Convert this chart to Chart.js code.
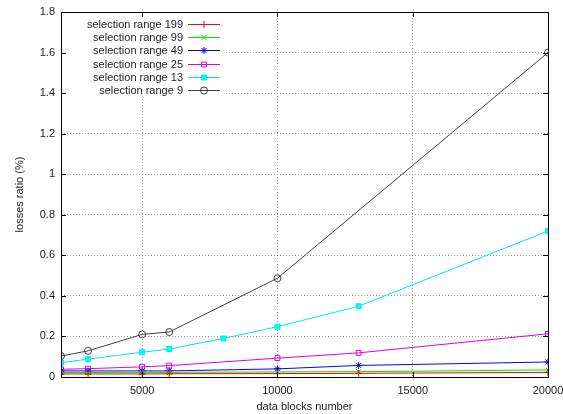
<!DOCTYPE html>
<html>
<head>
<meta charset="utf-8">
<script src="https://cdn.jsdelivr.net/npm/chart.js@4/dist/chart.umd.min.js"></script>
<style>
  html, body { margin: 0; padding: 0; background: #fff; }
  #wrap { width: 563px; height: 414px; }
</style>
</head>
<body>
<div id="wrap"><canvas id="chart"></canvas></div>
<script>
// x positions (data blocks number)
const blocksCommon = [2000, 3000, 5000, 6000, 10000, 13000, 20000];
const blocksRange13 = [2000, 3000, 5000, 6000, 8000, 10000, 13000, 20000];
const blocksRange9 = [2000, 3000, 5000, 6000, 10000, 20000];

// losses ratio (%)
const range199 = [0.015, 0.015, 0.015, 0.016, 0.017, 0.018, 0.023];
const range99 = [0.022, 0.022, 0.023, 0.023, 0.025, 0.026, 0.035];
const range49 = [0.03, 0.03, 0.03, 0.03, 0.04, 0.057, 0.074];
const range25 = [0.038, 0.041, 0.05, 0.056, 0.093, 0.119, 0.213];
const range13 = [0.071, 0.088, 0.122, 0.138, 0.19, 0.248, 0.349, 0.72];
const range9 = [0.103, 0.129, 0.21, 0.222, 0.487, 1.6];

const labels = ["selection range 199", "selection range 99", "selection range 49",
  "selection range 25", "selection range 13", "selection range 9"];

const xTicks = [5000, 10000, 15000, 20000];

const toPoints = (xs, ys) => xs.map((x, i) => ({ x, y: ys[i] }));

const FONT = "'Liberation Sans', Arial, sans-serif";

function series(label, xs, ys, color, style, fill) {
  return {
    label,
    data: toPoints(xs, ys),
    borderColor: color,
    backgroundColor: fill,
    borderWidth: 1,
    pointStyle: style,
    pointRadius: 3.5,
    pointBorderWidth: 1,
    pointBorderColor: color,
    pointBackgroundColor: fill,
    tension: 0,
  };
}

const datasets = [
  series(labels[0], blocksCommon, range199, "#ff0000", "cross", "#ff0000"),
  series(labels[1], blocksCommon, range99, "#00e000", "crossRot", "#00e000"),
  series(labels[2], blocksCommon, range49, "#0000ff", "star", "#0000ff"),
  series(labels[3], blocksCommon, range25, "#e000e0", "rect", "rgba(0,0,0,0)"),
  series(labels[4], blocksRange13, range13, "#00e8e8", "rect", "#00ffff"),
  series(labels[5], blocksRange9, range9, "#404040", "circle", "rgba(0,0,0,0)"),
];

// gnuplot-like frame, inward ticks and key
const frame = {
  id: "frame",
  beforeDatasetsDraw(chart) {
    const ctx = chart.ctx;
    const a = chart.chartArea;
    ctx.save();
    ctx.fillStyle = "#fff";
    ctx.fillRect(a.left + 1, a.top + 1, 164, 86);
    ctx.restore();
  },
  afterDraw(chart) {
    const ctx = chart.ctx;
    const a = chart.chartArea;
    const xs = chart.scales.x, ys = chart.scales.y;
    ctx.save();
    ctx.strokeStyle = "#000";
    ctx.lineWidth = 1;
    ctx.strokeRect(Math.round(a.left) + 0.5, Math.round(a.top) + 0.5,
      Math.round(a.right - a.left), Math.round(a.bottom - a.top));
    ctx.beginPath();
    xs.ticks.forEach(t => {
      const px = Math.round(xs.getPixelForValue(t.value)) + 0.5;
      ctx.moveTo(px, a.bottom); ctx.lineTo(px, a.bottom - 5);
      ctx.moveTo(px, a.top); ctx.lineTo(px, a.top + 5);
    });
    ys.ticks.forEach(t => {
      const py = Math.round(ys.getPixelForValue(t.value)) + 0.5;
      ctx.moveTo(a.left, py); ctx.lineTo(a.left + 5, py);
      ctx.moveTo(a.right, py); ctx.lineTo(a.right - 5, py);
    });
    ctx.stroke();

    // key
    ctx.font = "11px " + FONT;
    ctx.textAlign = "right";
    ctx.textBaseline = "middle";
    chart.data.datasets.forEach((ds, i) => {
      const y = Math.round(a.top + 12 + i * 13.2) + 0.5;
      ctx.fillStyle = "#222";
      ctx.fillText(ds.label, a.left + 122, y);
      ctx.strokeStyle = ds.borderColor;
      ctx.lineWidth = 1;
      ctx.beginPath();
      ctx.moveTo(a.left + 127, y);
      ctx.lineTo(a.left + 159, y);
      ctx.stroke();
      ctx.fillStyle = ds.pointBackgroundColor;
      Chart.helpers.drawPoint(ctx, {
        pointStyle: ds.pointStyle, rotation: 0, radius: 3.5, borderWidth: 1
      }, a.left + 143, y);
    });
    ctx.restore();
  }
};

new Chart(document.getElementById("chart"), {
  type: "line",
  data: { datasets },
  options: {
    responsive: true,
    maintainAspectRatio: false,
    animation: false,
    layout: { padding: { top: 12, right: 15, left: 0, bottom: 0 } },
    plugins: { legend: { display: false }, tooltip: { enabled: false } },
    scales: {
      x: {
        type: "linear",
        min: 2000,
        max: 20000,
        afterBuildTicks: s => { s.ticks = xTicks.map(v => ({ value: v })); },
        afterFit: s => { s.height = 37; s.paddingRight = 0; s.paddingLeft = 0; },
        grid: { color: "#a0a0a0", drawTicks: false, tickLength: 0 },
        border: { display: false, dash: [1, 2] },
        ticks: {
          padding: 7,
          color: "#222",
          font: { family: FONT, size: 11 },
          callback: v => String(v),
        },
        title: {
          display: true,
          text: "data blocks number",
          color: "#222",
          font: { family: FONT, size: 11 },
          padding: { top: 5, bottom: 0 },
        },
      },
      y: {
        min: 0,
        max: 1.8,
        afterFit: s => { s.width = 61; s.paddingTop = 0; s.paddingBottom = 0; },
        grid: { color: "#a0a0a0", drawTicks: false, tickLength: 0 },
        border: { display: false, dash: [1, 2] },
        ticks: {
          stepSize: 0.2,
          padding: 6,
          color: "#222",
          font: { family: FONT, size: 11 },
          callback: v => String(+v.toFixed(1)),
        },
        title: {
          display: true,
          text: "losses ratio (%)",
          color: "#222",
          font: { family: FONT, size: 11 },
          padding: { top: 13, bottom: 0 },
        },
      },
    },
  },
  plugins: [frame],
});
</script>
</body>
</html>
